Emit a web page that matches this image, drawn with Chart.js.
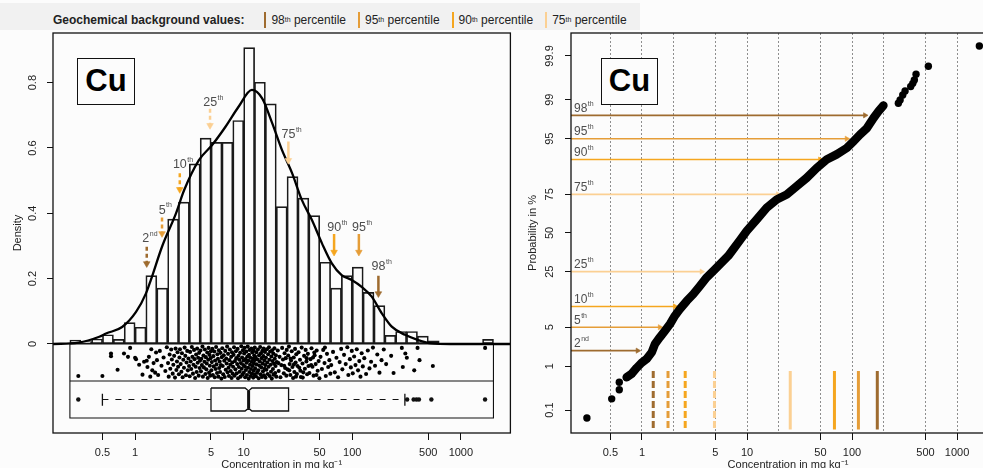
<!DOCTYPE html>
<html><head><meta charset="utf-8">
<script src="https://cdn.jsdelivr.net/npm/chart.js@4.4.1/dist/chart.umd.min.js"></script>
<style>
html,body{margin:0;padding:0;width:983px;height:468px;overflow:hidden;background:#fcfcfc;font-family:"Liberation Sans",Arial,sans-serif;}
#wrap{position:relative;width:983px;height:468px;overflow:hidden;}
canvas{position:absolute;top:0;}
#band{position:absolute;left:0;top:3px;width:640px;height:27px;background:#f1f1f1;}
#legend{position:absolute;left:53px;top:12px;height:16px;display:flex;align-items:center;font-size:12px;color:#222;white-space:nowrap;}
#legend .ttl{font-weight:bold;margin-right:20px;}
#legend .sw{display:inline-block;width:2px;height:16px;margin-right:5px;}
#legend .it{display:flex;align-items:center;margin-right:12px;}
#legend sup{font-size:7px;position:relative;top:-1px;}
.cu{position:absolute;box-sizing:border-box;border:1.4px solid #111;background:#fcfcfc;font-weight:bold;font-size:31px;line-height:43px;text-align:center;color:#000;}
</style></head>
<body><div id="wrap">
<div id="band"></div>
<div id="legend"></div>
<canvas id="left" width="515" height="476" style="left:0"></canvas>
<canvas id="right" width="495" height="476" style="left:515px"></canvas>
<div class="cu" style="left:77px;top:58px;width:58px;height:47px">Cu</div>
<div class="cu" style="left:601px;top:58px;width:57px;height:47px">Cu</div>
</div>
<script>
// ================= DATA =================
// histogram (density of log10 concentration), bin edges in mg/kg
const histEdges = [0.251,0.316,0.398,0.501,0.631,0.794,1.00,1.26,1.58,2.00,2.51,3.16,3.98,5.01,6.31,7.94,10.0,12.6,15.8,20.0,25.1,31.6,39.8,50.1,63.1,79.4,100,126,158,200,251,316,398,501,631,794,1000,1259,1585,1995];
const histDensity = [0.012,0.007,0.015,0.028,0.014,0.065,0.051,0.209,0.171,0.382,0.434,0.551,0.630,0.617,0.617,0.684,0.907,0.801,0.735,0.420,0.512,0.446,0.393,0.250,0.171,0.209,0.235,0.158,0.117,0.026,0.038,0.038,0.024,0.009,0,0,0,0,0.014];
// kernel density curve
const densityConc  = [0.175,0.30,0.468,0.54,0.76,1.02,1.26,1.40,1.78,2.38,2.82,3.87,5.12,6.8,9.0,11.9,14.8,18.3,22.5,27.9,34.3,42.4,52.6,64.8,79.8,98.7,122,151,187,231,306,405,539,800,2858];
const densityValue = [0,0.004,0.022,0.032,0.052,0.098,0.155,0.197,0.30,0.40,0.47,0.563,0.609,0.665,0.727,0.778,0.752,0.676,0.594,0.523,0.441,0.38,0.308,0.247,0.211,0.196,0.175,0.145,0.094,0.053,0.028,0.012,0.002,0,0];
// jittered strip: [concentration, jitter (0 = top of strip, 1 = bottom)]
const stripPoints = [
[0.30,0.91],[0.50,0.91],[0.60,0.23],[0.60,0.31],[0.69,0.72],[0.79,0.23],[0.86,0.33],[0.90,0.06],[1.0,0.36],[1.02,0.40],[1.09,0.57],[1.17,0.87],[1.21,0.48],
[1.28,0.45],[1.30,0.64],[1.34,0.33],[1.38,0.93],[1.41,0.10],[1.44,0.74],[1.48,0.52],[1.53,0.81],[1.56,0.20],
[1.59,0.43],[1.63,0.88],[1.69,0.15],[1.75,0.60],[1.83,0.35],[1.90,0.76],[1.96,0.04],
[2.01,0.52],[2.04,0.93],[2.08,0.26],[2.11,0.69],[2.15,0.11],[2.18,0.41],[2.22,0.84],[2.25,0.57],[2.29,0.30],[2.33,0.96],[2.36,0.08],[2.40,0.73],[2.43,0.47],[2.46,0.19],[2.49,0.63],
[2.53,0.86],[2.56,0.35],[2.59,0.10],[2.63,0.55],[2.67,0.78],[2.70,0.22],[2.74,0.95],[2.78,0.42],[2.82,0.66],[2.86,0.05],[2.90,0.30],[2.94,0.89],[2.98,0.50],[3.02,0.15],[3.06,0.74],[3.10,0.38],[3.14,0.61],
[3.18,0.92],[3.21,0.18],[3.25,0.47],[3.29,0.70],[3.33,0.03],[3.37,0.33],[3.41,0.84],[3.45,0.57],[3.49,0.12],[3.53,0.40],[3.57,0.97],[3.61,0.63],[3.65,0.26],[3.69,0.79],[3.73,0.08],[3.77,0.51],[3.81,0.36],[3.85,0.90],[3.89,0.21],[3.93,0.67],[3.96,0.45],
[4.00,0.14],[4.04,0.77],[4.08,0.39],[4.12,0.58],[4.17,0.02],[4.21,0.93],[4.26,0.29],[4.30,0.65],[4.35,0.48],[4.39,0.11],[4.44,0.85],[4.48,0.34],[4.53,0.71],[4.57,0.53],[4.62,0.20],[4.66,0.97],[4.71,0.42],[4.75,0.06],[4.80,0.81],[4.84,0.27],[4.88,0.60],[4.92,0.90],[4.96,0.37],[4.99,0.16],
[5.04,0.74],[5.09,0.49],[5.14,0.09],[5.20,0.88],[5.25,0.31],[5.30,0.62],[5.36,0.17],[5.41,0.95],[5.46,0.44],[5.52,0.70],[5.57,0.03],[5.63,0.56],[5.68,0.82],[5.73,0.25],[5.79,0.39],[5.84,0.93],[5.90,0.13],[5.95,0.67],[6.01,0.47],[6.06,0.79],[6.12,0.21],[6.17,0.58],[6.23,0.99],[6.28,0.34],
[6.35,0.07],[6.41,0.61],[6.48,0.86],[6.55,0.28],[6.62,0.45],[6.69,0.94],[6.76,0.15],[6.83,0.72],[6.90,0.38],[6.97,0.53],[7.04,0.02],[7.11,0.80],[7.18,0.24],[7.25,0.66],[7.32,0.91],[7.39,0.43],[7.46,0.11],[7.53,0.57],[7.60,0.76],[7.67,0.33],[7.74,0.97],[7.80,0.19],[7.86,0.50],[7.91,0.84],
[7.99,0.63],[8.07,0.27],[8.15,0.04],[8.23,0.90],[8.31,0.46],[8.39,0.71],[8.47,0.16],[8.55,0.37],[8.63,0.83],[8.71,0.55],[8.79,0.09],[8.87,0.98],[8.95,0.30],[9.03,0.64],[9.11,0.42],[9.19,0.78],[9.27,0.21],[9.35,0.93],[9.43,0.52],[9.51,0.01],[9.59,0.69],[9.67,0.35],[9.75,0.87],[9.83,0.13],[9.90,0.58],[9.96,0.44],
[10.03,0.81],[10.10,0.23],[10.17,0.06],[10.25,0.62],[10.32,0.95],[10.40,0.40],[10.48,0.73],[10.56,0.17],[10.64,0.51],[10.72,0.88],[10.80,0.32],[10.88,0.02],[10.96,0.66],[11.04,0.45],[11.12,0.99],[11.20,0.27],[11.28,0.79],[11.36,0.12],[11.44,0.57],[11.52,0.36],[11.60,0.91],[11.68,0.70],[11.76,0.08],[11.84,0.48],[11.92,0.84],[12.00,0.20],[12.08,0.61],[12.16,0.39],[12.24,0.96],[12.31,0.14],[12.38,0.75],[12.44,0.53],[12.50,0.29],[12.55,0.87],[12.58,0.43],
[12.65,0.05],[12.75,0.68],[12.86,0.34],[12.97,0.92],[13.08,0.19],[13.19,0.56],[13.30,0.81],[13.41,0.41],[13.52,0.11],[13.63,0.74],[13.74,0.98],[13.85,0.28],[13.96,0.60],[14.07,0.47],[14.18,0.03],[14.29,0.86],[14.40,0.22],[14.51,0.65],[14.62,0.37],[14.73,0.94],[14.84,0.15],[14.95,0.53],[15.06,0.77],[15.17,0.31],[15.28,0.08],[15.39,0.89],[15.50,0.44],[15.61,0.69],[15.71,0.18],[15.79,0.58],
[15.90,0.96],[16.04,0.36],[16.19,0.72],[16.34,0.10],[16.49,0.50],[16.64,0.85],[16.79,0.25],[16.94,0.63],[17.09,0.04],[17.24,0.42],[17.39,0.91],[17.54,0.17],[17.69,0.57],[17.84,0.78],[17.99,0.32],[18.14,0.99],[18.29,0.13],[18.44,0.46],[18.59,0.70],[18.74,0.23],[18.89,0.87],[19.04,0.54],[19.19,0.07],[19.34,0.39],[19.49,0.82],[19.64,0.61],[19.79,0.28],[19.94,0.93],
[20.2,0.49],[20.6,0.14],[20.9,0.52],[21.0,0.76],[21.4,0.33],[21.8,0.95],[22.2,0.58],[22.6,0.06],[23.0,0.41],[23.4,0.83],[23.6,0.60],[23.8,0.22],[24.1,0.67],[24.4,0.37],[24.7,0.90],[24.9,0.12],
[25.3,0.71],[25.7,0.29],[26.1,0.02],[26.3,0.74],[26.5,0.55],[26.9,0.88],[27.0,0.38],[27.3,0.44],[27.7,0.16],[28.1,0.64],[28.5,0.97],[28.9,0.35],[29.0,0.56],[29.3,0.79],[29.7,0.09],[30.1,0.50],[30.3,0.93],[30.5,0.25],[30.9,0.85],[31.3,0.61],
[32.0,0.19],[32.5,0.66],[33.0,0.42],[33.3,0.75],[33.6,0.94],[34.2,0.05],[34.8,0.53],[35.0,0.96],[35.4,0.80],[36.0,0.30],[36.6,0.69],[37.2,0.12],[37.8,0.47],[38.0,0.37],[38.4,0.86],[39.0,0.24],[39.5,0.61],
[40.3,0.82],[41.2,0.40],[41.8,0.58],[42.1,0.07],[43.0,0.63],[43.5,0.35],[44.0,0.90],[44.7,0.20],[45.0,0.28],[46.0,0.55],[46.8,0.88],[47.0,0.14],[48.0,0.75],[49.0,0.46],[49.8,0.98],
[51,0.33],[52.5,0.70],[54,0.12],[55.5,0.52],[56,0.05],[57,0.91],[58.5,0.24],[60,0.64],[61.5,0.43],[62.8,0.84],
[64,0.58],[66.5,0.18],[69,0.80],[71.5,0.36],[74,0.95],[76.5,0.49],[79,0.09],
[81,0.71],[84,0.27],[87,0.55],[90,0.04],[92,0.88],[95,0.40],[97,0.65],[99,0.15],
[101,0.83],[104,0.32],[107,0.58],[110,0.10],[113,0.74],[116,0.46],[119,0.93],[122,0.22],[125,0.62],
[129,0.37],[134,0.85],[139,0.14],[144,0.68],[149,0.48],[155,0.05],
[162,0.60],[170,0.26],[178,0.81],[186,0.43],[195,0.11],
[205,0.55],[228,0.30],[240,0.82],[286,0.06],[292,0.64],[308,0.23],[318,0.36],[372,0.74],[399,0.06],[416,0.43],[552,0.61],[1672,0.06]
];
// notched box plot: [lower whisker, Q1, median, Q3, upper whisker]
const boxStats = [0.50, 5.0, 11.1, 25.9, 305];
const boxNotch = [10.3, 11.9];
const boxOutliers = [0.30, 320, 367, 390, 411, 535, 1670];
// percentiles / geochemical background values
const pctNames = [['2','nd'],['5','th'],['10','th'],['25','th'],['75','th'],['90','th'],['95','th'],['98','th']];
const pctLevels = [2, 5, 10, 25, 75, 90, 95, 98];
const bgValues = [1.28, 1.77, 2.58, 4.9, 25.8, 68, 115, 174];
const probTips = [0.91, 1.48, 2.06, 3.7, 19.7, 49.6, 89, 133];
// cumulative probability plot (dense part, then isolated points)
const probConc = [0.715,0.798,0.891,0.99,1.11,1.24,1.33,1.48,1.66,1.85,2.06,2.30,2.67,3.08,3.57,4.13,4.96,5.74,6.64,7.41,8.6,9.93,12.4,15.4,19.2,23.9,29.7,37.0,46.1,57.4,71.5,89.1,103,119,138,160,178,199];
const probPct  = [0.59,0.70,0.93,1.17,1.40,1.87,2.64,3.43,4.42,5.61,7.45,9.23,11.8,14.3,17.8,21.9,26.4,30.3,34.5,38.9,45.1,51.4,59.4,67.0,72.1,74.95,79.3,83.2,87.2,90.0,91.5,93.1,94.5,95.7,96.6,97.75,98.3,98.7];
const tailConc = [0.299,0.515,0.608,0.608,0.715,0.798,276,287,304,320,362,379,392,407,533,1630];
const tailPct  = [0.062,0.19,0.31,0.46,0.59,0.70,98.82,98.99,99.20,99.34,99.47,99.55,99.62,99.72,99.82,99.945];
// axes
const xTickValues = [0.5, 1, 5, 10, 50, 100, 500, 1000];
const xGridValues = [0.5, 1, 2, 5, 10, 20, 50, 100, 200, 500, 1000];
const densityTicks = [0, 0.2, 0.4, 0.6, 0.8];
const probTicks = [0.1, 1, 5, 25, 50, 75, 95, 99, 99.9];

// ================= LAYOUT / STYLE =================
const FONT = '"Liberation Sans", Arial, sans-serif';
const C98 = '#9e6b2f', C95 = '#e59d38', C90 = '#f5a61f', C75 = '#fbd093';
const pctColors = [C98, C95, C90, C75, C75, C90, C95, C98];
const LEFT = {xMin: 0.1754, xMax: 2858, yMin: -0.2725, yMax: 0.952};
const RIGHT = {xMin: 0.211, xMax: 2860, pMin: 0.0241, pMax: 99.9759};
const STRIP = {top: 0, bottom: -0.1133, jTop: -0.006, jSpan: 0.101};
const BOXROW = {bottom: -0.2266, top: -0.1347, bot: -0.2051, inTop: -0.1436, inBot: -0.1964, mid: -0.170, capTop: -0.152, capBot: -0.189};
const arrowTop  = [0.298, 0.387, 0.523, 0.72, 0.62, 0.337, 0.337, 0.209];
const arrowHead = [0.246, 0.338, 0.473, 0.669, 0.562, 0.281, 0.281, 0.154];
const arrowLabelY = [0.324, 0.41, 0.548, 0.74, 0.64, 0.357, 0.357, 0.237];
const bgBarRange = [0.80, 0.030];

Chart.defaults.font.family = FONT;

// legend
(function(){
  const lg = document.getElementById('legend');
  let html = '<span class="ttl">Geochemical background values:</span>';
  [[7,C98],[6,C95],[5,C90],[4,C75]].forEach(([i,c]) => {
    html += '<span class="it"><span class="sw" style="background:'+c+'"></span>'+pctNames[i][0]+'<sup>'+pctNames[i][1]+'</sup>&nbsp;percentile</span>';
  });
  lg.innerHTML = html;
})();

// probit (normal probability) scale
function qnorm(p){
  const a=[-3.969683028665376e+01,2.209460984245205e+02,-2.759285104469687e+02,1.383577518672690e+02,-3.066479806614716e+01,2.506628277459239e+00];
  const b=[-5.447609879822406e+01,1.615858368580409e+02,-1.556989798598866e+02,6.680131188771972e+01,-1.328068155288572e+01];
  const c=[-7.784894002430293e-03,-3.223964580411365e-01,-2.400758277161838e+00,-2.549732539343734e+00,4.374664141464968e+00,2.938163982698783e+00];
  const d=[7.784695709041462e-03,3.224671290700398e-01,2.445134137142996e+00,3.754408661907416e+00];
  const pl=0.02425, ph=1-pl; let q,r;
  if(p<pl){q=Math.sqrt(-2*Math.log(p));return (((((c[0]*q+c[1])*q+c[2])*q+c[3])*q+c[4])*q+c[5])/((((d[0]*q+d[1])*q+d[2])*q+d[3])*q+1);}
  if(p>ph){q=Math.sqrt(-2*Math.log(1-p));return -(((((c[0]*q+c[1])*q+c[2])*q+c[3])*q+c[4])*q+c[5])/((((d[0]*q+d[1])*q+d[2])*q+d[3])*q+1);}
  q=p-0.5; r=q*q;
  return (((((a[0]*r+a[1])*r+a[2])*r+a[3])*r+a[4])*r+a[5])*q/(((((b[0]*r+b[1])*r+b[2])*r+b[3])*r+b[4])*r+1);
}
function pnorm(z){
  const t=1/(1+0.2316419*Math.abs(z)), dd=0.3989423*Math.exp(-z*z/2);
  const p=dd*t*(0.3193815+t*(-0.3565638+t*(1.781478+t*(-1.821256+t*1.330274))));
  return z>0?1-p:p;
}
const LinearScale = Chart.LinearScale || Chart.registry.getScale('linear');
class ProbitScale extends LinearScale {
  determineDataLimits(){ this.min = this.options.min; this.max = this.options.max; }
  buildTicks(){ return []; }
  configure(){ super.configure(); this._zA = qnorm(this.min/100); this._zB = qnorm(this.max/100); }
  getPixelForValue(v){ if (v === null || v === undefined || isNaN(v)) return NaN; return this.getPixelForDecimal((qnorm(v/100)-this._zA)/(this._zB-this._zA)); }
  getValueForPixel(px){ const dd = this.getDecimalForPixel(px); return 100*pnorm(this._zA + dd*(this._zB-this._zA)); }
}
ProbitScale.id = 'probit';
ProbitScale.defaults = LinearScale.defaults;
Chart.register(ProbitScale);

// helpers
function drawSup(ctx, x, y, main, sup, align, size, color){
  ctx.save();
  ctx.fillStyle = color; ctx.textBaseline = 'middle'; ctx.textAlign = 'left';
  const ss = Math.round(size*0.56);
  ctx.font = size+'px '+FONT; const w1 = ctx.measureText(main).width;
  ctx.font = ss+'px '+FONT; const w2 = ctx.measureText(sup).width;
  const x0 = align === 'center' ? x-(w1+w2)/2 : x;
  ctx.font = size+'px '+FONT; ctx.fillText(main, x0, y);
  ctx.font = ss+'px '+FONT; ctx.fillText(sup, x0+w1+0.5, y-size*0.36);
  ctx.restore();
}
const framePlugin = {id:'frame', afterDraw(chart){
  const {ctx, chartArea:a} = chart; ctx.save(); ctx.strokeStyle = '#111'; ctx.lineWidth = 1.3;
  ctx.strokeRect(a.left, a.top, a.right-a.left, a.bottom-a.top); ctx.restore();
}};
const seg = (pts, color, width, dash, extra) => Object.assign({type:'line', data: pts, borderColor: color, borderWidth: width, borderDash: dash || [], pointRadius: 0, fill: false, tension: 0}, extra || {});

function xAxis(min, max, gridVals, onArea){
  return {
    type: 'logarithmic', min, max, bounds: 'data', offset: false,
    afterBuildTicks: s => { s.ticks = gridVals.map(v => ({value: v})); },
    afterFit: s => { s.height = 43; },
    ticks: {autoSkip: false, maxRotation: 0, minRotation: 0, padding: 6, color: '#222', font: {size: 11},
      callback: v => xTickValues.includes(v) ? String(v) : ''},
    grid: {display: true, drawOnChartArea: onArea, drawTicks: true, tickLength: 7, offset: false, color: '#8e8e8e', lineWidth: 1,
      tickColor: c => (c.tick && xTickValues.includes(c.tick.value)) ? '#111' : 'rgba(0,0,0,0)', tickWidth: 1},
    border: {display: false, dash: [2, 2]},
    title: {display: true, text: 'Concentration in mg kg\u207B\u00B9', color: '#222', font: {size: 11}, padding: {top: 0, bottom: 4}}
  };
}
function yAxisCommon(width, pad, titleText, titlePad){
  return {
    afterFit: s => { s.width = width; },
    ticks: {autoSkip: false, minRotation: 90, maxRotation: 90, crossAlign: 'center', padding: pad, color: '#222', font: {size: 11}},
    grid: {drawOnChartArea: false, drawTicks: true, tickLength: 6, tickColor: '#111', tickWidth: 1},
    border: {display: false},
    title: {display: true, text: titleText, color: '#222', font: {size: 11}, padding: {top: titlePad, bottom: 0}}
  };
}

// ================= LEFT CHART =================
const L = [];
L.push({type: 'bar', order: 10,
  data: histDensity.map((dv, i) => ({x: Math.sqrt(histEdges[i]*histEdges[i+1]), y: dv})),
  backgroundColor: 'rgba(255,255,255,0)', borderColor: '#1a1a1a', borderWidth: 0.85, borderSkipped: false,
  barPercentage: 1, categoryPercentage: 1, inflateAmount: 0.42});
const hLo = histEdges[0], hHi = histEdges[histEdges.length-1];
L.push(seg([{x:hLo,y:STRIP.top},{x:hHi,y:STRIP.top},{x:hHi,y:BOXROW.bottom},{x:hLo,y:BOXROW.bottom},{x:hLo,y:STRIP.top}], '#111', 1.1, [], {order: 8}));
L.push(seg([{x:hLo,y:STRIP.bottom},{x:hHi,y:STRIP.bottom}], '#111', 1.1, [], {order: 8}));
L.push({type: 'line', order: 6, data: densityConc.map((c, i) => ({x: c, y: densityValue[i]})),
  borderColor: '#000', borderWidth: 2.3, pointRadius: 0, cubicInterpolationMode: 'monotone', fill: false});
L.push({type: 'scatter', order: 5, data: stripPoints.map(p => ({x: p[0], y: STRIP.jTop - p[1]*STRIP.jSpan})),
  pointRadius: 2.05, pointBackgroundColor: '#000', pointBorderWidth: 0});
const [wLo, q1, med, q3, wHi] = boxStats;
L.push(seg([{x:q1,y:BOXROW.top},{x:boxNotch[0],y:BOXROW.top},{x:med,y:BOXROW.inTop},{x:boxNotch[1],y:BOXROW.top},{x:q3,y:BOXROW.top},
  {x:q3,y:BOXROW.bot},{x:boxNotch[1],y:BOXROW.bot},{x:med,y:BOXROW.inBot},{x:boxNotch[0],y:BOXROW.bot},{x:q1,y:BOXROW.bot},{x:q1,y:BOXROW.top}], '#111', 1.3, [], {order: 4}));
L.push(seg([{x:med,y:BOXROW.inTop},{x:med,y:BOXROW.inBot}], '#111', 3, [], {order: 4}));
L.push(seg([{x:wLo,y:BOXROW.mid},{x:q1,y:BOXROW.mid}], '#111', 1.2, [6,7], {order: 4}));
L.push(seg([{x:q3,y:BOXROW.mid},{x:wHi,y:BOXROW.mid}], '#111', 1.2, [6,7], {order: 4}));
L.push(seg([{x:wLo,y:BOXROW.capTop},{x:wLo,y:BOXROW.capBot}], '#111', 1.3, [], {order: 4}));
L.push(seg([{x:wHi,y:BOXROW.capTop},{x:wHi,y:BOXROW.capBot}], '#111', 1.3, [], {order: 4}));
L.push({type: 'scatter', order: 4, data: boxOutliers.map(v => ({x: v, y: BOXROW.mid})), pointRadius: 2.2, pointBackgroundColor: '#111', pointBorderWidth: 0});
pctLevels.forEach((p, i) => {
  L.push(seg([{x: bgValues[i], y: arrowTop[i]}, {x: bgValues[i], y: arrowHead[i]}], pctColors[i], 2.5, i < 4 ? [4,3] : [],
    {order: 1, pointRadius: [0, 3.8], pointStyle: 'triangle', pointRotation: 180, pointBackgroundColor: pctColors[i], pointBorderColor: pctColors[i], pointBorderWidth: 0.6}));
});

const leftLabels = {id: 'leftLabels', afterDatasetsDraw(chart){
  const {ctx, scales: {x, y}} = chart;
  pctLevels.forEach((p, i) => drawSup(ctx, x.getPixelForValue(bgValues[i]) + 3, y.getPixelForValue(arrowLabelY[i]), pctNames[i][0], pctNames[i][1], 'center', 12.5, '#4d4d4d'));
}};

new Chart(document.getElementById('left'), {
  type: 'scatter',
  data: {datasets: L},
  options: {
    responsive: false, animation: false, events: [],
    layout: {padding: {left: 0, top: 33, right: 3, bottom: 0}},
    plugins: {legend: {display: false}, tooltip: {enabled: false}},
    scales: {
      x: xAxis(LEFT.xMin, LEFT.xMax, xTickValues, false),
      y: Object.assign(yAxisCommon(53, 6.3, 'Density', 10.9), {
        type: 'linear', min: LEFT.yMin, max: LEFT.yMax, bounds: 'data',
        afterBuildTicks: s => { s.ticks = densityTicks.map(v => ({value: v})); }
      })
    }
  },
  plugins: [framePlugin, leftLabels]
});
(function(){
  const ch = Chart.getChart('left');
  ch.options.scales.y.ticks.callback = v => v === 0 ? '0' : v.toFixed(1);
  ch.update();
})();

// ================= RIGHT CHART =================
const R = [];
pctLevels.forEach((p, i) => {
  R.push(seg([{x: bgValues[i], y: bgBarRange[0]}, {x: bgValues[i], y: bgBarRange[1]}], pctColors[i], 3, i < 4 ? [7,3] : [], {order: 6}));
});
pctLevels.forEach((p, i) => {
  R.push(seg([{x: RIGHT.xMin, y: p}, {x: probTips[i], y: p}], pctColors[i], 1.6, [],
    {order: 5, pointRadius: [0, 3], pointStyle: 'triangle', pointRotation: 90, pointBackgroundColor: pctColors[i], pointBorderColor: pctColors[i], pointBorderWidth: 0.6}));
});
R.push({type: 'line', order: 2, data: probConc.map((c, i) => ({x: c, y: probPct[i]})),
  borderColor: '#000', borderWidth: 8.5, borderCapStyle: 'round', borderJoinStyle: 'round', pointRadius: 0, fill: false, tension: 0});
R.push({type: 'scatter', order: 2, data: tailConc.map((c, i) => ({x: c, y: tailPct[i]})),
  pointRadius: 3.7, pointBackgroundColor: '#000', pointBorderWidth: 0});

const rightLabels = {id: 'rightLabels', afterDatasetsDraw(chart){
  const {ctx, chartArea: a, scales: {y}} = chart;
  pctLevels.forEach((p, i) => drawSup(ctx, a.left + 3, y.getPixelForValue(p) - 7, pctNames[i][0], pctNames[i][1], 'left', 12, '#4d4d4d'));
}};

new Chart(document.getElementById('right'), {
  type: 'scatter',
  data: {datasets: R},
  options: {
    responsive: false, animation: false, events: [],
    layout: {padding: {left: 0, top: 33, right: 5, bottom: 0}},
    plugins: {legend: {display: false}, tooltip: {enabled: false}},
    scales: {
      x: xAxis(RIGHT.xMin, RIGHT.xMax, xGridValues, true),
      y: Object.assign(yAxisCommon(56, 4.5, 'Probability in %', 11.4), {
        type: 'probit', min: RIGHT.pMin, max: RIGHT.pMax,
        afterBuildTicks: s => { s.ticks = probTicks.map(v => ({value: v})); }
      })
    }
  },
  plugins: [framePlugin, rightLabels]
});
(function(){
  const ch = Chart.getChart('right');
  ch.options.scales.y.ticks.callback = v => String(v);
  ch.update();
})();
</script>
</body></html>
